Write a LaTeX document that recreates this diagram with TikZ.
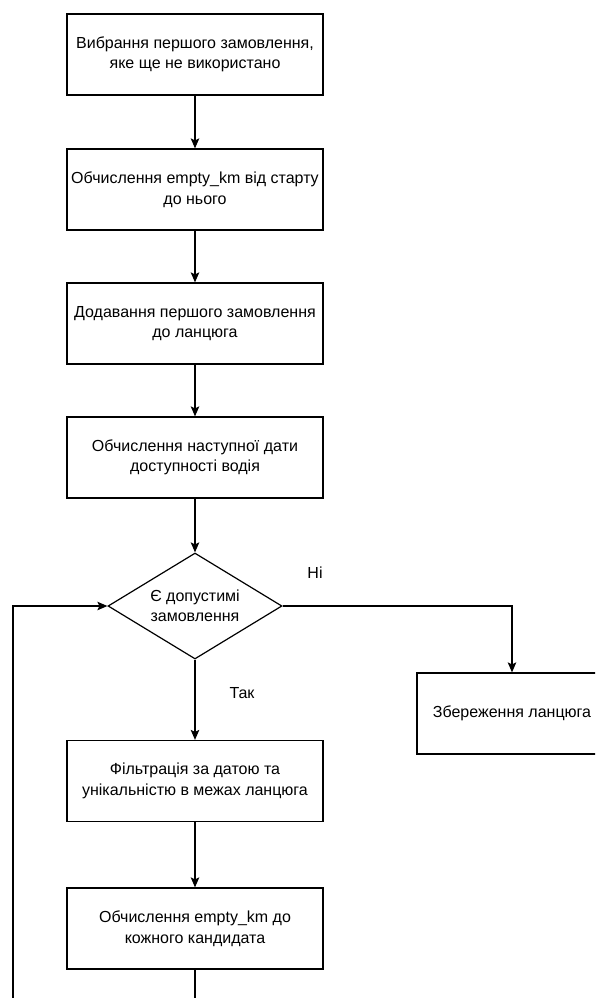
\documentclass[tikz,border=0pt]{standalone}
\usepackage{fontspec}
\setmainfont{Liberation Sans}
\usetikzlibrary{shapes.geometric,arrows.meta}

\begin{document}
\begin{tikzpicture}[%
      x=1pt, y=-1pt,
      font=\fontsize{16}{20.5}\selectfont,
      box/.style={draw, line width=1.2pt, minimum width=256pt,
        minimum height=81pt, inner sep=0pt, align=center},
      choice/.style={draw, diamond, line width=1.2pt, aspect=1.64,
        minimum width=174pt, minimum height=106pt, inner sep=0pt, align=center},
      link/.style={line width=1.2pt, -{Stealth[length=10pt,width=8.5pt,inset=2pt]}},
      ]
      \useasboundingbox (0,0) rectangle (595,998);
      \clip (0,0) rectangle (595,998);

      \node [box] (pick) at (195,54.5) {Вибрання першого замовлення,\\яке ще не використано};
      \node [box] (dist) at (195,189.5) {Обчислення empty\_km від старту\\до нього};
      \node [box] (add) at (195,323.5) {Додавання першого замовлення\\до ланцюга};
      \node [box] (date) at (195,457.5) {Обчислення наступної дати\\доступності водія};
      \node [choice] (check) at (195,606) {Є допустимі\\замовлення};
      \node [box, minimum width=190pt] (save) at (512,713.5) {Збереження ланцюга};
      \node [box] (filt) at (195,781) {Фільтрація за датою та\\унікальністю в межах ланцюга};
      \node [box] (cand) at (195,928.5) {Обчислення empty\_km до\\кожного кандидата};

      \coordinate (tail) at (195,1010);
      \coordinate (back) at (13,1010);

      \draw [link] (pick) -- (dist);
      \draw [link] (dist) -- (add);
      \draw [link] (add) -- (date);
      \draw [link] (date) -- (check);
      \draw [link] (check.east) -| (save.north);
      \draw [link] (check) -- (filt);
      \draw [link] (filt) -- (cand);
      \draw [line width=1.2pt] (cand) -- (tail);
      \draw [link] (back) |- (check.west);

      \node (no) at (315,573) {Ні};
      \node (yes) at (242,693) {Так};
\end{tikzpicture}
\end{document}
